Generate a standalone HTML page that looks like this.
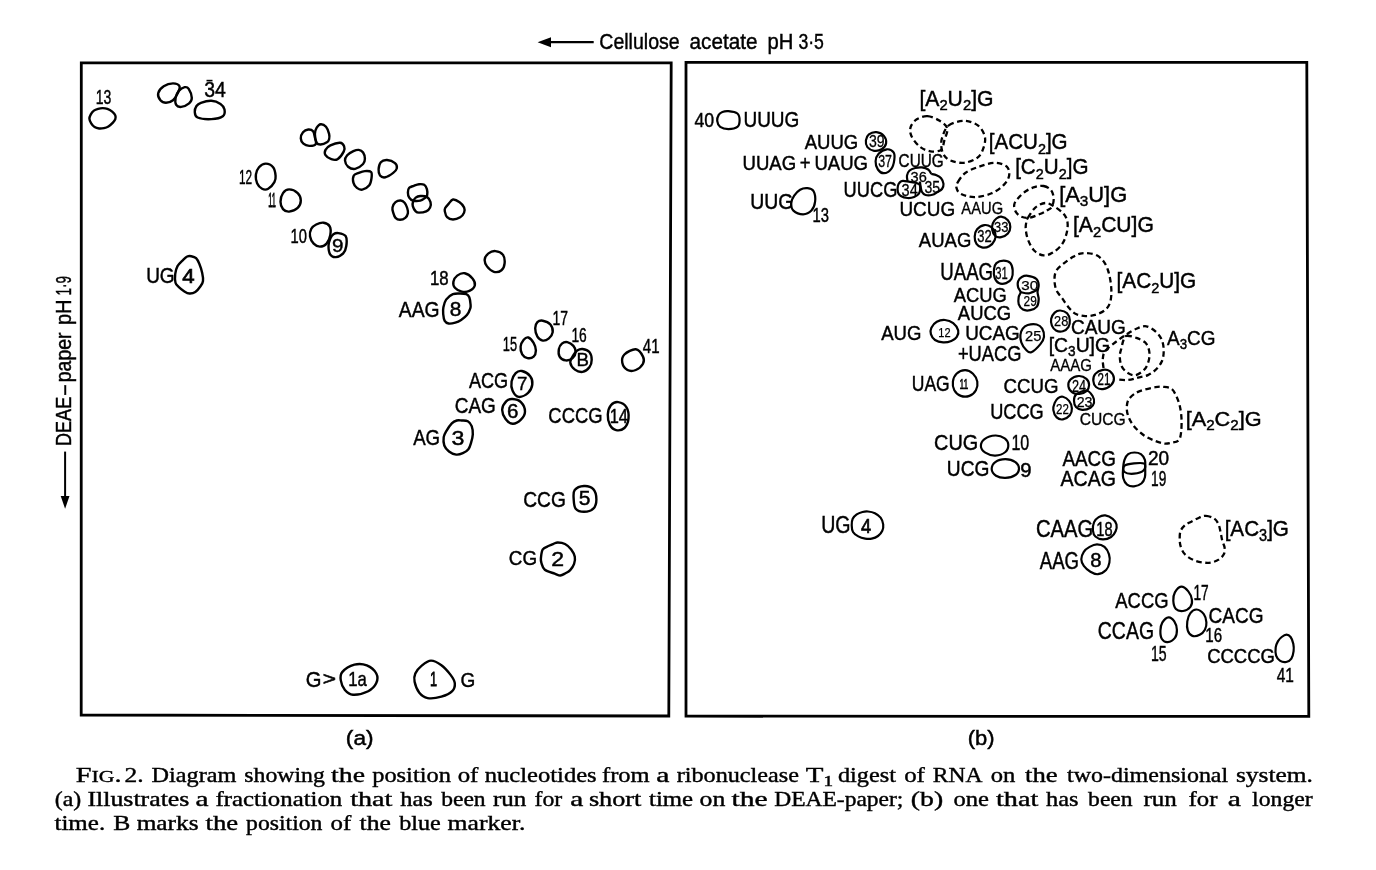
<!DOCTYPE html>
<html><head><meta charset="utf-8"><title>Fig. 2</title>
<style>
html,body{margin:0;padding:0;background:#fff;}
body{width:1376px;height:870px;overflow:hidden;}
svg{display:block;filter:grayscale(1);}
.fig text{font-family:"Liberation Sans",sans-serif;fill:#000;}
.cap text{font-family:"Liberation Serif",serif;fill:#000;font-size:21.2px;stroke:#000;stroke-width:0.4px;}
</style></head><body>
<svg width="1376" height="870" viewBox="0 0 1376 870">
<rect width="1376" height="870" fill="#fff"/>
<g class="fig">
<path d="M81.3,62.8 L671.2,62.8 L668.8,716 L81.2,715 Z" fill="none" stroke="#000" stroke-width="2.8"/>
<path d="M686,62.4 L1306.8,62.4 L1308.8,716.4 L686,716.2 Z" fill="none" stroke="#000" stroke-width="2.8"/>
<line x1="545" y1="42.2" x2="593.7" y2="42.2" stroke="#000" stroke-width="2.2"/>
<path d="M537.6,42.2 L551,37.2 L551,47.2 Z" fill="#000"/>
<text x="599.31" y="49.40" font-size="22.70" textLength="80.36" lengthAdjust="spacingAndGlyphs" stroke="#000" stroke-width="0.45">Cellulose</text>
<text x="689.52" y="49.40" font-size="22.70" textLength="67.90" lengthAdjust="spacingAndGlyphs" stroke="#000" stroke-width="0.45">acetate</text>
<text x="767.50" y="49.40" font-size="22.70" textLength="25.85" lengthAdjust="spacingAndGlyphs" stroke="#000" stroke-width="0.45">pH</text>
<text x="798.43" y="49.40" font-size="22.70" textLength="25.51" lengthAdjust="spacingAndGlyphs" stroke="#000" stroke-width="0.45">3·5</text>
<g transform="rotate(-90 63.5 443.6)">
<text x="61.12" y="450.80" font-size="21.30" textLength="49.16" lengthAdjust="spacingAndGlyphs" stroke="#000" stroke-width="0.45">DEAE</text>
<text x="112.30" y="450.80" font-size="21.30" textLength="9.61" lengthAdjust="spacingAndGlyphs" stroke="#000" stroke-width="0.45">–</text>
<text x="124.85" y="450.80" font-size="21.30" textLength="49.78" lengthAdjust="spacingAndGlyphs" stroke="#000" stroke-width="0.45">paper</text>
<text x="182.00" y="450.80" font-size="21.30" textLength="25.74" lengthAdjust="spacingAndGlyphs" stroke="#000" stroke-width="0.45">pH</text>
<text x="211.57" y="450.80" font-size="21.30" textLength="19.46" lengthAdjust="spacingAndGlyphs" stroke="#000" stroke-width="0.45">1·9</text>
</g>
<line x1="65.1" y1="451.6" x2="65.1" y2="500" stroke="#000" stroke-width="2"/>
<path d="M65.1,508.7 L60.7,495.9 L69.5,495.9 Z" fill="#000"/>
<text x="345.89" y="744.60" font-size="20.00" textLength="27.71" lengthAdjust="spacingAndGlyphs" stroke="#000" stroke-width="0.45">(a)</text>
<text x="967.74" y="744.60" font-size="20.00" textLength="26.82" lengthAdjust="spacingAndGlyphs" stroke="#000" stroke-width="0.45">(b)</text>
<text x="95.83" y="103.50" font-size="19.86" textLength="15.58" lengthAdjust="spacingAndGlyphs" stroke="#000" stroke-width="0.45">13</text>
<text x="204.26" y="97.10" font-size="21.57" textLength="21.61" lengthAdjust="spacingAndGlyphs" stroke="#000" stroke-width="0.45">34</text>
<text x="239.00" y="183.70" font-size="21.14" textLength="13.20" lengthAdjust="spacingAndGlyphs" stroke="#000" stroke-width="0.45">12</text>
<text x="268.28" y="206.50" font-size="20.29" textLength="7.66" lengthAdjust="spacingAndGlyphs" stroke="#000" stroke-width="0.80">11</text>
<text x="290.48" y="242.70" font-size="20.14" textLength="16.40" lengthAdjust="spacingAndGlyphs" stroke="#000" stroke-width="0.45">10</text>
<text x="146.14" y="283.00" font-size="21.71" textLength="28.48" lengthAdjust="spacingAndGlyphs" stroke="#000" stroke-width="0.45">UG</text>
<text x="429.92" y="284.90" font-size="19.57" textLength="18.71" lengthAdjust="spacingAndGlyphs" stroke="#000" stroke-width="0.45">18</text>
<text x="398.76" y="317.30" font-size="22.43" textLength="40.78" lengthAdjust="spacingAndGlyphs" stroke="#000" stroke-width="0.45">AAG</text>
<text x="552.43" y="325.10" font-size="20.86" textLength="15.57" lengthAdjust="spacingAndGlyphs" stroke="#000" stroke-width="0.45">17</text>
<text x="502.82" y="350.70" font-size="19.71" textLength="14.32" lengthAdjust="spacingAndGlyphs" stroke="#000" stroke-width="0.45">15</text>
<text x="571.45" y="341.80" font-size="21.00" textLength="15.36" lengthAdjust="spacingAndGlyphs" stroke="#000" stroke-width="0.45">16</text>
<text x="642.75" y="352.60" font-size="19.57" textLength="16.78" lengthAdjust="spacingAndGlyphs" stroke="#000" stroke-width="0.45">41</text>
<text x="468.96" y="388.10" font-size="21.57" textLength="39.19" lengthAdjust="spacingAndGlyphs" stroke="#000" stroke-width="0.45">ACG</text>
<text x="454.73" y="412.70" font-size="21.57" textLength="41.18" lengthAdjust="spacingAndGlyphs" stroke="#000" stroke-width="0.45">CAG</text>
<text x="413.16" y="444.80" font-size="22.86" textLength="26.93" lengthAdjust="spacingAndGlyphs" stroke="#000" stroke-width="0.45">AG</text>
<text x="548.37" y="423.10" font-size="21.57" textLength="54.21" lengthAdjust="spacingAndGlyphs" stroke="#000" stroke-width="0.45">CCCG</text>
<text x="523.23" y="507.10" font-size="21.29" textLength="42.61" lengthAdjust="spacingAndGlyphs" stroke="#000" stroke-width="0.45">CCG</text>
<text x="508.84" y="564.60" font-size="20.57" textLength="28.26" lengthAdjust="spacingAndGlyphs" stroke="#000" stroke-width="0.45">CG</text>
<text x="305.68" y="687.10" font-size="22.71" textLength="15.73" lengthAdjust="spacingAndGlyphs" stroke="#000" stroke-width="0.45">G</text>
<text x="348.23" y="686.40" font-size="20.86" textLength="18.57" lengthAdjust="spacingAndGlyphs" stroke="#000" stroke-width="0.45">1a</text>
<text x="430.03" y="686.40" font-size="20.86" textLength="7.09" lengthAdjust="spacingAndGlyphs" stroke="#000" stroke-width="0.80">1</text>
<text x="460.44" y="687.10" font-size="20.71" textLength="14.77" lengthAdjust="spacingAndGlyphs" stroke="#000" stroke-width="0.45">G</text>
<text x="332.04" y="252.30" font-size="18.57" textLength="11.44" lengthAdjust="spacingAndGlyphs" stroke="#000" stroke-width="0.43">9</text>
<text x="182.29" y="283.00" font-size="20.57" textLength="12.36" lengthAdjust="spacingAndGlyphs" stroke="#000" stroke-width="0.70">4</text>
<text x="449.89" y="316.30" font-size="19.57" textLength="11.62" lengthAdjust="spacingAndGlyphs" stroke="#000" stroke-width="0.45">8</text>
<text x="576.47" y="366.40" font-size="18.57" textLength="12.41" lengthAdjust="spacingAndGlyphs" stroke="#000" stroke-width="0.43">B</text>
<text x="517.14" y="390.00" font-size="17.43" textLength="10.40" lengthAdjust="spacingAndGlyphs" stroke="#000" stroke-width="0.37">7</text>
<text x="506.95" y="417.80" font-size="19.29" textLength="11.45" lengthAdjust="spacingAndGlyphs" stroke="#000" stroke-width="0.45">6</text>
<text x="451.62" y="444.80" font-size="20.71" textLength="12.90" lengthAdjust="spacingAndGlyphs" stroke="#000" stroke-width="0.45">3</text>
<text x="609.75" y="422.80" font-size="20.71" textLength="18.23" lengthAdjust="spacingAndGlyphs" stroke="#000" stroke-width="0.45">14</text>
<text x="578.66" y="504.80" font-size="19.29" textLength="11.73" lengthAdjust="spacingAndGlyphs" stroke="#000" stroke-width="0.45">5</text>
<text x="551.34" y="565.80" font-size="19.29" textLength="12.82" lengthAdjust="spacingAndGlyphs" stroke="#000" stroke-width="0.45">2</text>
<text x="322.88" y="685.10" font-size="17.50" textLength="13.22" lengthAdjust="spacingAndGlyphs" stroke="#000" stroke-width="0.60">&gt;</text>
<line x1="206.5" y1="80.6" x2="212.5" y2="80.6" stroke="#000" stroke-width="1.6"/>
<path d="M102.60,108.10 C104.15,108.10 105.80,108.22 107.40,108.80 C109.00,109.38 110.88,110.50 112.20,111.60 C113.52,112.70 114.78,114.13 115.30,115.40 C115.82,116.67 115.70,118.00 115.30,119.20 C114.90,120.40 114.05,121.40 112.90,122.60 C111.75,123.80 109.90,125.48 108.40,126.40 C106.90,127.32 105.45,127.75 103.90,128.10 C102.35,128.45 100.65,128.67 99.10,128.50 C97.55,128.33 95.92,127.97 94.60,127.10 C93.28,126.23 92.07,124.68 91.20,123.30 C90.33,121.92 89.47,120.30 89.40,118.80 C89.33,117.30 90.05,115.67 90.80,114.30 C91.55,112.93 92.68,111.52 93.90,110.60 C95.12,109.68 96.65,109.22 98.10,108.80 C99.55,108.38 101.05,108.10 102.60,108.10Z" fill="none" stroke="#000" stroke-width="2.40" stroke-linejoin="round"/>
<path d="M635.80,349.30 C638.90,349.65 641.80,354.18 643.00,356.60 C644.20,359.02 644.20,361.57 643.00,363.80 C641.80,366.03 638.38,368.97 635.80,370.00 C633.22,371.03 629.75,371.20 627.50,370.00 C625.25,368.80 622.82,365.38 622.30,362.80 C621.78,360.22 622.15,356.75 624.40,354.50 C626.65,352.25 632.70,348.95 635.80,349.30Z" fill="none" stroke="#000" stroke-width="2.40" stroke-linejoin="round"/>
<path d="M521.90,371.00 C524.32,371.52 528.47,373.95 530.20,376.20 C531.93,378.45 532.65,381.73 532.30,384.50 C531.95,387.27 530.35,390.73 528.10,392.80 C525.85,394.87 521.38,397.25 518.80,396.90 C516.22,396.55 513.80,393.28 512.60,390.70 C511.40,388.12 511.08,384.33 511.60,381.40 C512.12,378.47 513.98,374.83 515.70,373.10 C517.42,371.37 519.48,370.48 521.90,371.00Z" fill="none" stroke="#000" stroke-width="2.40" stroke-linejoin="round"/>
<path d="M512.60,399.00 C515.02,399.17 518.83,400.03 520.90,402.10 C522.97,404.17 525.00,408.47 525.00,411.40 C525.00,414.33 522.97,417.63 520.90,419.70 C518.83,421.77 515.18,423.97 512.60,423.80 C510.02,423.63 507.13,421.10 505.40,418.70 C503.67,416.30 502.03,412.33 502.20,409.40 C502.37,406.47 504.67,402.83 506.40,401.10 C508.13,399.37 510.18,398.83 512.60,399.00Z" fill="none" stroke="#000" stroke-width="2.40" stroke-linejoin="round"/>
<path d="M618.20,402.10 C620.80,402.45 624.78,404.53 626.50,407.30 C628.22,410.07 628.85,415.25 628.50,418.70 C628.15,422.15 626.47,426.10 624.40,428.00 C622.33,429.90 618.52,430.62 616.10,430.10 C613.68,429.58 611.28,427.50 609.90,424.90 C608.52,422.30 607.63,417.78 607.80,414.50 C607.97,411.22 609.17,407.27 610.90,405.20 C612.63,403.13 615.60,401.75 618.20,402.10Z" fill="none" stroke="#000" stroke-width="2.40" stroke-linejoin="round"/>
<path d="M584.00,486.00 C587.10,485.83 591.23,486.87 593.30,489.10 C595.37,491.33 596.40,496.13 596.40,499.40 C596.40,502.67 595.37,506.63 593.30,508.70 C591.23,510.77 586.93,511.80 584.00,511.80 C581.07,511.80 577.42,510.77 575.70,508.70 C573.98,506.63 573.87,502.50 573.70,499.40 C573.53,496.30 572.98,492.33 574.70,490.10 C576.42,487.87 580.90,486.17 584.00,486.00Z" fill="none" stroke="#000" stroke-width="2.40" stroke-linejoin="round"/>
<path d="M495.40,251.10 C497.82,251.35 501.47,252.87 503.00,254.90 C504.53,256.93 504.85,260.75 504.60,263.30 C504.35,265.85 503.28,268.78 501.50,270.20 C499.72,271.62 496.32,272.43 493.90,271.80 C491.48,271.17 488.53,268.45 487.00,266.40 C485.47,264.35 484.45,261.67 484.70,259.50 C484.95,257.33 486.72,254.80 488.50,253.40 C490.28,252.00 492.98,250.85 495.40,251.10Z" fill="none" stroke="#000" stroke-width="2.40" stroke-linejoin="round"/>
<path d="M464.80,273.30 C467.35,273.80 470.83,276.57 472.50,278.60 C474.17,280.63 475.32,283.45 474.80,285.50 C474.28,287.55 471.57,289.88 469.40,290.90 C467.23,291.92 464.22,292.12 461.80,291.60 C459.38,291.08 456.30,289.45 454.90,287.80 C453.50,286.15 453.02,283.73 453.40,281.70 C453.78,279.67 455.30,277.00 457.20,275.60 C459.10,274.20 462.25,272.80 464.80,273.30Z" fill="none" stroke="#000" stroke-width="2.40" stroke-linejoin="round"/>
<path d="M542.80,320.70 C544.97,321.08 548.75,322.58 550.40,324.50 C552.05,326.42 552.95,329.90 552.70,332.20 C552.45,334.50 550.55,336.90 548.90,338.30 C547.25,339.70 544.72,340.87 542.80,340.60 C540.88,340.33 538.67,338.75 537.40,336.70 C536.13,334.65 535.20,330.72 535.20,328.30 C535.20,325.88 536.13,323.47 537.40,322.20 C538.67,320.93 540.63,320.32 542.80,320.70Z" fill="none" stroke="#000" stroke-width="2.40" stroke-linejoin="round"/>
<path d="M528.30,337.50 C529.95,338.02 532.33,340.73 533.60,342.90 C534.87,345.07 535.90,348.22 535.90,350.50 C535.90,352.78 535.00,355.33 533.60,356.60 C532.20,357.87 529.40,358.48 527.50,358.10 C525.60,357.72 523.35,356.20 522.20,354.30 C521.05,352.40 520.35,349.12 520.60,346.70 C520.85,344.28 522.42,341.33 523.70,339.80 C524.98,338.27 526.65,336.98 528.30,337.50Z" fill="none" stroke="#000" stroke-width="2.40" stroke-linejoin="round"/>
<path d="M567.30,342.10 C569.22,342.48 572.00,344.25 573.40,345.90 C574.80,347.55 575.83,349.97 575.70,352.00 C575.57,354.03 574.27,356.70 572.60,358.10 C570.93,359.50 567.87,360.65 565.70,360.40 C563.53,360.15 560.73,358.50 559.60,356.60 C558.47,354.70 558.52,351.17 558.90,349.00 C559.28,346.83 560.50,344.75 561.90,343.60 C563.30,342.45 565.38,341.72 567.30,342.10Z" fill="none" stroke="#000" stroke-width="2.40" stroke-linejoin="round"/>
<path d="M582.60,349.00 C584.63,349.25 587.88,350.22 589.40,352.00 C590.92,353.78 591.70,357.15 591.70,359.70 C591.70,362.25 590.92,365.27 589.40,367.30 C587.88,369.33 585.02,371.52 582.60,371.90 C580.18,372.28 576.95,371.13 574.90,369.60 C572.85,368.07 570.55,365.12 570.30,362.70 C570.05,360.28 572.25,357.13 573.40,355.10 C574.55,353.07 575.67,351.52 577.20,350.50 C578.73,349.48 580.57,348.75 582.60,349.00Z" fill="none" stroke="#000" stroke-width="2.40" stroke-linejoin="round"/>
<path d="M265.80,163.60 C268.15,163.60 271.47,165.25 273.10,167.30 C274.73,169.35 275.38,173.43 275.60,175.90 C275.82,178.37 275.63,179.95 274.40,182.10 C273.17,184.25 270.25,187.68 268.20,188.80 C266.15,189.92 263.95,189.72 262.10,188.80 C260.25,187.88 258.13,185.65 257.10,183.30 C256.07,180.95 255.58,177.37 255.90,174.70 C256.22,172.03 257.35,169.15 259.00,167.30 C260.65,165.45 263.45,163.60 265.80,163.60Z" fill="none" stroke="#000" stroke-width="2.40" stroke-linejoin="round"/>
<path d="M289.10,189.40 C291.55,189.40 295.75,191.25 297.70,193.10 C299.65,194.95 300.80,198.03 300.80,200.50 C300.80,202.97 299.65,206.05 297.70,207.90 C295.75,209.75 291.55,211.40 289.10,211.60 C286.65,211.80 284.43,210.75 283.00,209.10 C281.57,207.45 280.50,204.37 280.50,201.70 C280.50,199.03 281.57,195.15 283.00,193.10 C284.43,191.05 286.65,189.40 289.10,189.40Z" fill="none" stroke="#000" stroke-width="2.40" stroke-linejoin="round"/>
<path d="M323.60,222.70 C325.85,223.00 328.58,224.27 329.70,226.30 C330.82,228.33 330.82,232.02 330.30,234.90 C329.78,237.78 328.33,241.65 326.60,243.60 C324.87,245.55 322.05,246.60 319.90,246.60 C317.75,246.60 315.35,245.33 313.70,243.60 C312.05,241.87 310.40,238.67 310.00,236.20 C309.60,233.73 310.27,230.75 311.30,228.80 C312.33,226.85 314.15,225.52 316.20,224.50 C318.25,223.48 321.35,222.40 323.60,222.70Z" fill="none" stroke="#000" stroke-width="2.40" stroke-linejoin="round"/>
<path d="M338.30,233.10 C340.35,233.42 344.37,234.05 345.70,236.20 C347.03,238.35 346.72,243.13 346.30,246.00 C345.88,248.87 344.93,251.55 343.20,253.40 C341.47,255.25 338.05,256.90 335.90,257.10 C333.75,257.30 331.53,256.45 330.30,254.60 C329.07,252.75 328.50,248.67 328.50,246.00 C328.50,243.33 329.48,240.55 330.30,238.60 C331.12,236.65 332.07,235.22 333.40,234.30 C334.73,233.38 336.25,232.78 338.30,233.10Z" fill="none" stroke="#000" stroke-width="2.40" stroke-linejoin="round"/>
<path d="M400.70,200.50 C402.22,200.60 403.52,201.55 404.60,202.80 C405.68,204.05 406.65,206.25 407.20,208.00 C407.75,209.75 408.22,211.65 407.90,213.30 C407.58,214.95 406.62,216.82 405.30,217.90 C403.98,218.98 401.63,219.80 400.00,219.80 C398.37,219.80 396.63,219.10 395.50,217.90 C394.37,216.70 393.70,214.35 393.20,212.60 C392.70,210.85 392.12,209.13 392.50,207.40 C392.88,205.67 394.13,203.35 395.50,202.20 C396.87,201.05 399.18,200.40 400.70,200.50Z" fill="none" stroke="#000" stroke-width="2.40" stroke-linejoin="round"/>
<path d="M419.00,184.20 C420.73,184.03 422.88,183.98 424.20,184.80 C425.52,185.62 426.40,187.40 426.90,189.10 C427.40,190.80 427.43,193.58 427.20,195.00 C426.97,196.42 426.65,196.67 425.50,197.60 C424.35,198.53 422.37,200.10 420.30,200.60 C418.23,201.10 414.95,201.10 413.10,200.60 C411.25,200.10 410.07,198.97 409.20,197.60 C408.33,196.23 407.90,194.03 407.90,192.40 C407.90,190.77 408.22,188.90 409.20,187.80 C410.18,186.70 412.17,186.40 413.80,185.80 C415.43,185.20 417.27,184.37 419.00,184.20Z" fill="none" stroke="#000" stroke-width="2.40" stroke-linejoin="round"/>
<path d="M420.30,196.00 C422.17,195.88 425.20,195.87 426.90,196.90 C428.60,197.93 429.97,200.45 430.50,202.20 C431.03,203.95 430.82,205.88 430.10,207.40 C429.38,208.92 428.05,210.43 426.20,211.30 C424.35,212.17 420.75,212.60 419.00,212.60 C417.25,212.60 416.73,212.38 415.70,211.30 C414.67,210.22 413.23,207.73 412.80,206.10 C412.37,204.47 412.62,202.92 413.10,201.50 C413.58,200.08 414.50,198.52 415.70,197.60 C416.90,196.68 418.43,196.12 420.30,196.00Z" fill="none" stroke="#000" stroke-width="2.40" stroke-linejoin="round"/>
<path d="M453.00,199.50 C454.87,199.18 457.75,200.88 459.60,202.20 C461.45,203.52 463.35,205.67 464.10,207.40 C464.85,209.13 464.75,210.97 464.10,212.60 C463.45,214.23 462.05,216.05 460.20,217.20 C458.35,218.35 455.18,219.50 453.00,219.50 C450.82,219.50 448.47,218.57 447.10,217.20 C445.73,215.83 445.12,212.83 444.80,211.30 C444.48,209.77 444.60,209.20 445.20,208.00 C445.80,206.80 447.10,205.52 448.40,204.10 C449.70,202.68 451.13,199.82 453.00,199.50Z" fill="none" stroke="#000" stroke-width="2.40" stroke-linejoin="round"/>
<path d="M308.30,129.50 C309.98,129.35 312.00,129.97 313.10,131.30 C314.20,132.63 314.45,135.37 314.90,137.50 C315.35,139.63 316.75,142.70 315.80,144.10 C314.85,145.50 311.27,145.97 309.20,145.90 C307.13,145.83 304.80,144.95 303.40,143.70 C302.00,142.45 300.87,140.32 300.80,138.40 C300.73,136.48 301.75,133.68 303.00,132.20 C304.25,130.72 306.62,129.65 308.30,129.50Z" fill="none" stroke="#000" stroke-width="2.40" stroke-linejoin="round"/>
<path d="M320.70,124.20 C322.25,124.05 324.60,125.18 326.00,126.80 C327.40,128.42 328.58,131.83 329.10,133.90 C329.62,135.97 329.47,137.80 329.10,139.20 C328.73,140.60 328.30,141.42 326.90,142.30 C325.50,143.18 322.40,144.42 320.70,144.50 C319.00,144.58 317.67,144.57 316.70,142.80 C315.73,141.03 314.90,136.42 314.90,133.90 C314.90,131.38 315.73,129.32 316.70,127.70 C317.67,126.08 319.15,124.35 320.70,124.20Z" fill="none" stroke="#000" stroke-width="2.40" stroke-linejoin="round"/>
<path d="M340.10,142.80 C342.38,142.95 343.50,144.83 344.10,146.30 C344.70,147.77 344.80,149.45 343.70,151.60 C342.60,153.75 339.57,157.93 337.50,159.20 C335.43,160.47 333.30,159.87 331.30,159.20 C329.30,158.53 326.47,156.75 325.50,155.20 C324.53,153.65 324.68,151.53 325.50,149.90 C326.32,148.27 327.97,146.58 330.40,145.40 C332.83,144.22 337.82,142.65 340.10,142.80Z" fill="none" stroke="#000" stroke-width="2.40" stroke-linejoin="round"/>
<path d="M358.70,149.90 C360.32,150.12 362.07,151.03 363.10,152.50 C364.13,153.97 364.90,156.78 364.90,158.70 C364.90,160.62 364.72,162.30 363.10,164.00 C361.48,165.70 357.70,168.45 355.20,168.90 C352.70,169.35 349.80,168.10 348.10,166.70 C346.40,165.30 345.15,162.42 345.00,160.50 C344.85,158.58 345.80,156.75 347.20,155.20 C348.60,153.65 351.48,152.08 353.40,151.20 C355.32,150.32 357.08,149.68 358.70,149.90Z" fill="none" stroke="#000" stroke-width="2.40" stroke-linejoin="round"/>
<path d="M364.90,171.10 C366.97,170.95 370.00,170.82 371.10,172.00 C372.20,173.18 371.80,175.98 371.50,178.20 C371.20,180.42 370.83,183.38 369.30,185.30 C367.77,187.22 364.37,189.27 362.30,189.70 C360.23,190.13 358.38,189.08 356.90,187.90 C355.42,186.72 353.92,184.67 353.40,182.60 C352.88,180.53 352.92,177.12 353.80,175.50 C354.68,173.88 356.85,173.63 358.70,172.90 C360.55,172.17 362.83,171.25 364.90,171.10Z" fill="none" stroke="#000" stroke-width="2.40" stroke-linejoin="round"/>
<path d="M387.00,160.00 C389.37,160.15 393.37,161.70 395.00,163.10 C396.63,164.50 397.10,166.77 396.80,168.40 C396.50,170.03 395.12,171.42 393.20,172.90 C391.28,174.38 387.50,176.87 385.30,177.30 C383.10,177.73 381.12,176.83 380.00,175.50 C378.88,174.17 378.47,171.52 378.60,169.30 C378.73,167.08 379.40,163.75 380.80,162.20 C382.20,160.65 384.63,159.85 387.00,160.00Z" fill="none" stroke="#000" stroke-width="2.40" stroke-linejoin="round"/>
<path d="M163.70,86.30 C166.17,84.65 170.37,83.40 173.00,83.40 C175.63,83.40 178.72,84.65 179.50,86.30 C180.28,87.95 178.78,90.98 177.70,93.30 C176.62,95.62 174.95,98.62 173.00,100.20 C171.05,101.78 168.10,102.80 166.00,102.80 C163.90,102.80 161.70,101.78 160.40,100.20 C159.10,98.62 157.65,95.62 158.20,93.30 C158.75,90.98 161.23,87.95 163.70,86.30Z" fill="none" stroke="#000" stroke-width="2.40" stroke-linejoin="round"/>
<path d="M184.70,87.20 C186.35,86.85 187.52,87.02 188.70,88.80 C189.88,90.58 191.73,95.47 191.80,97.90 C191.87,100.33 190.87,101.90 189.10,103.40 C187.33,104.90 183.35,106.65 181.20,106.90 C179.05,107.15 177.13,106.40 176.20,104.90 C175.27,103.40 175.17,100.23 175.60,97.90 C176.03,95.57 177.28,92.68 178.80,90.90 C180.32,89.12 183.05,87.55 184.70,87.20Z" fill="none" stroke="#000" stroke-width="2.40" stroke-linejoin="round"/>
<path d="M200.90,102.80 C203.38,101.93 208.13,100.62 211.40,100.80 C214.67,100.98 218.32,102.45 220.50,103.90 C222.68,105.35 224.12,107.45 224.50,109.50 C224.88,111.55 224.98,114.60 222.80,116.20 C220.62,117.80 215.60,118.88 211.40,119.10 C207.20,119.32 200.37,118.70 197.60,117.50 C194.83,116.30 194.98,113.82 194.80,111.90 C194.62,109.98 195.48,107.52 196.50,106.00 C197.52,104.48 198.42,103.67 200.90,102.80Z" fill="none" stroke="#000" stroke-width="2.40" stroke-linejoin="round"/>
<path d="M191.30,256.20 C192.78,256.48 194.77,256.93 196.10,258.20 C197.43,259.47 198.28,261.33 199.30,263.80 C200.32,266.27 201.58,270.13 202.20,273.00 C202.82,275.87 203.28,278.80 203.00,281.00 C202.72,283.20 201.78,284.37 200.50,286.20 C199.22,288.03 197.13,290.78 195.30,292.00 C193.47,293.22 191.32,293.60 189.50,293.50 C187.68,293.40 186.22,292.52 184.40,291.40 C182.58,290.28 180.08,288.23 178.60,286.80 C177.12,285.37 176.07,284.92 175.50,282.80 C174.93,280.68 174.87,276.88 175.20,274.10 C175.53,271.32 176.17,268.48 177.50,266.10 C178.83,263.72 181.58,261.40 183.20,259.80 C184.82,258.20 185.85,257.10 187.20,256.50 C188.55,255.90 189.82,255.92 191.30,256.20Z" fill="none" stroke="#000" stroke-width="2.40" stroke-linejoin="round"/>
<path d="M452.90,294.20 C455.25,293.18 457.95,293.50 460.20,293.50 C462.45,293.50 464.88,293.58 466.40,294.20 C467.92,294.82 468.62,295.57 469.30,297.20 C469.98,298.83 470.33,302.15 470.50,304.00 C470.67,305.85 470.90,306.47 470.30,308.30 C469.70,310.13 468.43,313.07 466.90,315.00 C465.37,316.93 463.03,318.63 461.10,319.90 C459.17,321.17 457.38,322.00 455.30,322.60 C453.22,323.20 450.37,323.78 448.60,323.50 C446.83,323.22 445.60,322.47 444.70,320.90 C443.80,319.33 443.42,316.37 443.20,314.10 C442.98,311.83 442.92,309.72 443.40,307.30 C443.88,304.88 444.52,301.78 446.10,299.60 C447.68,297.42 450.55,295.22 452.90,294.20Z" fill="none" stroke="#000" stroke-width="2.40" stroke-linejoin="round"/>
<path d="M461.70,420.50 C463.53,420.63 466.13,420.37 467.80,421.30 C469.47,422.23 470.87,423.92 471.70,426.10 C472.53,428.28 472.90,431.63 472.80,434.40 C472.70,437.17 471.83,440.22 471.10,442.70 C470.37,445.18 469.78,447.55 468.40,449.30 C467.02,451.05 464.83,452.32 462.80,453.20 C460.77,454.08 458.50,454.88 456.20,454.60 C453.90,454.32 450.98,453.02 449.00,451.50 C447.02,449.98 445.18,447.88 444.30,445.50 C443.42,443.12 443.37,439.60 443.70,437.20 C444.03,434.80 444.95,433.40 446.30,431.10 C447.65,428.80 450.05,425.17 451.80,423.40 C453.55,421.63 455.15,420.98 456.80,420.50 C458.45,420.02 459.87,420.37 461.70,420.50Z" fill="none" stroke="#000" stroke-width="2.40" stroke-linejoin="round"/>
<path d="M557.80,542.50 C559.70,542.53 562.77,542.85 565.00,544.00 C567.23,545.15 569.57,547.28 571.20,549.40 C572.83,551.52 574.32,554.28 574.80,556.70 C575.28,559.12 574.87,561.67 574.10,563.90 C573.33,566.13 571.63,568.55 570.20,570.10 C568.77,571.65 567.15,572.30 565.50,573.20 C563.85,574.10 562.10,575.43 560.30,575.50 C558.50,575.57 557.28,574.55 554.70,573.60 C552.12,572.65 547.02,571.58 544.80,569.80 C542.58,568.02 542.05,564.83 541.40,562.90 C540.75,560.97 540.67,560.45 540.90,558.20 C541.13,555.95 541.45,551.47 542.80,549.40 C544.15,547.33 547.20,546.73 549.00,545.80 C550.80,544.87 552.13,544.35 553.60,543.80 C555.07,543.25 555.90,542.47 557.80,542.50Z" fill="none" stroke="#000" stroke-width="2.40" stroke-linejoin="round"/>
<path d="M431.00,660.60 C434.23,660.57 438.13,662.82 441.40,665.20 C444.67,667.58 448.37,671.92 450.60,674.90 C452.83,677.88 454.53,680.38 454.80,683.10 C455.07,685.82 454.43,688.93 452.20,691.20 C449.97,693.47 445.50,695.55 441.40,696.70 C437.30,697.85 431.28,698.75 427.60,698.10 C423.92,697.45 421.47,695.52 419.30,692.80 C417.13,690.08 415.27,685.02 414.60,681.80 C413.93,678.58 414.07,676.23 415.30,673.50 C416.53,670.77 419.38,667.55 422.00,665.40 C424.62,663.25 427.77,660.63 431.00,660.60Z" fill="none" stroke="#000" stroke-width="2.40" stroke-linejoin="round"/>
<path d="M354.40,664.70 C358.50,663.58 363.15,663.93 366.80,665.40 C370.45,666.87 374.72,670.55 376.30,673.50 C377.88,676.45 377.65,680.15 376.30,683.10 C374.95,686.05 372.08,689.27 368.20,691.20 C364.32,693.13 356.88,694.90 353.00,694.70 C349.12,694.50 346.93,692.38 344.90,690.00 C342.87,687.62 341.25,683.38 340.80,680.40 C340.35,677.42 339.93,674.72 342.20,672.10 C344.47,669.48 350.30,665.82 354.40,664.70Z" fill="none" stroke="#000" stroke-width="2.40" stroke-linejoin="round"/>
<text x="694.49" y="126.90" font-size="21.00" textLength="19.70" lengthAdjust="spacingAndGlyphs" stroke="#000" stroke-width="0.45">40</text>
<text x="743.44" y="126.90" font-size="22.43" textLength="55.88" lengthAdjust="spacingAndGlyphs" stroke="#000" stroke-width="0.45">UUUG</text>
<text x="804.76" y="148.50" font-size="19.71" textLength="53.42" lengthAdjust="spacingAndGlyphs" stroke="#000" stroke-width="0.45">AUUG</text>
<text x="742.57" y="170.10" font-size="19.71" textLength="125.42" lengthAdjust="spacingAndGlyphs" stroke="#000" stroke-width="0.45">UUAG + UAUG</text>
<text x="898.62" y="166.80" font-size="18.14" textLength="45.02" lengthAdjust="spacingAndGlyphs" stroke="#000" stroke-width="0.41">CUUG</text>
<text x="843.59" y="196.60" font-size="22.14" textLength="53.77" lengthAdjust="spacingAndGlyphs" stroke="#000" stroke-width="0.45">UUCG</text>
<text x="750.30" y="209.30" font-size="22.43" textLength="43.15" lengthAdjust="spacingAndGlyphs" stroke="#000" stroke-width="0.45">UUG</text>
<text x="812.47" y="222.10" font-size="19.71" textLength="16.48" lengthAdjust="spacingAndGlyphs" stroke="#000" stroke-width="0.45">13</text>
<text x="899.44" y="216.10" font-size="20.29" textLength="55.78" lengthAdjust="spacingAndGlyphs" stroke="#000" stroke-width="0.45">UCUG</text>
<text x="961.37" y="214.20" font-size="16.29" textLength="41.73" lengthAdjust="spacingAndGlyphs" stroke="#000" stroke-width="0.31">AAUG</text>
<text x="918.86" y="246.80" font-size="21.00" textLength="52.42" lengthAdjust="spacingAndGlyphs" stroke="#000" stroke-width="0.45">AUAG</text>
<text x="940.26" y="280.10" font-size="23.29" textLength="52.83" lengthAdjust="spacingAndGlyphs" stroke="#000" stroke-width="0.45">UAAG</text>
<text x="953.76" y="301.70" font-size="21.00" textLength="53.11" lengthAdjust="spacingAndGlyphs" stroke="#000" stroke-width="0.45">ACUG</text>
<text x="957.86" y="319.60" font-size="19.71" textLength="53.21" lengthAdjust="spacingAndGlyphs" stroke="#000" stroke-width="0.45">AUCG</text>
<text x="881.16" y="339.50" font-size="21.00" textLength="40.22" lengthAdjust="spacingAndGlyphs" stroke="#000" stroke-width="0.45">AUG</text>
<text x="965.14" y="340.30" font-size="20.86" textLength="54.57" lengthAdjust="spacingAndGlyphs" stroke="#000" stroke-width="0.45">UCAG</text>
<text x="957.91" y="361.00" font-size="22.14" textLength="63.46" lengthAdjust="spacingAndGlyphs" stroke="#000" stroke-width="0.45">+UACG</text>
<text x="1070.93" y="334.30" font-size="21.00" textLength="54.99" lengthAdjust="spacingAndGlyphs" stroke="#000" stroke-width="0.45">CAUG</text>
<text x="1050.27" y="370.50" font-size="16.00" textLength="41.75" lengthAdjust="spacingAndGlyphs" stroke="#000" stroke-width="0.30">AAAG</text>
<text x="911.75" y="391.20" font-size="22.14" textLength="37.96" lengthAdjust="spacingAndGlyphs" stroke="#000" stroke-width="0.45">UAG</text>
<text x="1003.55" y="392.90" font-size="21.00" textLength="54.94" lengthAdjust="spacingAndGlyphs" stroke="#000" stroke-width="0.45">CCUG</text>
<text x="990.20" y="418.80" font-size="22.29" textLength="53.56" lengthAdjust="spacingAndGlyphs" stroke="#000" stroke-width="0.45">UCCG</text>
<text x="1079.71" y="424.80" font-size="17.29" textLength="45.96" lengthAdjust="spacingAndGlyphs" stroke="#000" stroke-width="0.36">CUCG</text>
<text x="934.09" y="450.00" font-size="21.57" textLength="44.09" lengthAdjust="spacingAndGlyphs" stroke="#000" stroke-width="0.45">CUG</text>
<text x="1011.38" y="450.00" font-size="21.57" textLength="17.85" lengthAdjust="spacingAndGlyphs" stroke="#000" stroke-width="0.45">10</text>
<text x="946.82" y="475.50" font-size="21.57" textLength="42.61" lengthAdjust="spacingAndGlyphs" stroke="#000" stroke-width="0.45">UCG</text>
<text x="1020.15" y="476.50" font-size="20.29" textLength="11.32" lengthAdjust="spacingAndGlyphs" stroke="#000" stroke-width="0.45">9</text>
<text x="1062.46" y="465.70" font-size="21.57" textLength="53.45" lengthAdjust="spacingAndGlyphs" stroke="#000" stroke-width="0.45">AACG</text>
<text x="1060.56" y="485.50" font-size="21.57" textLength="55.40" lengthAdjust="spacingAndGlyphs" stroke="#000" stroke-width="0.45">ACAG</text>
<text x="1147.94" y="464.90" font-size="20.86" textLength="21.20" lengthAdjust="spacingAndGlyphs" stroke="#000" stroke-width="0.45">20</text>
<text x="1151.06" y="486.20" font-size="21.43" textLength="15.19" lengthAdjust="spacingAndGlyphs" stroke="#000" stroke-width="0.45">19</text>
<text x="821.19" y="533.20" font-size="24.29" textLength="29.37" lengthAdjust="spacingAndGlyphs" stroke="#000" stroke-width="0.45">UG</text>
<text x="861.08" y="532.80" font-size="21.00" textLength="10.15" lengthAdjust="spacingAndGlyphs" stroke="#000" stroke-width="0.70">4</text>
<text x="1035.97" y="536.60" font-size="23.00" textLength="57.34" lengthAdjust="spacingAndGlyphs" stroke="#000" stroke-width="0.45">CAAG</text>
<text x="1039.76" y="568.70" font-size="23.00" textLength="39.22" lengthAdjust="spacingAndGlyphs" stroke="#000" stroke-width="0.45">AAG</text>
<text x="1115.36" y="608.30" font-size="22.29" textLength="53.11" lengthAdjust="spacingAndGlyphs" stroke="#000" stroke-width="0.45">ACCG</text>
<text x="1193.46" y="600.00" font-size="21.43" textLength="15.23" lengthAdjust="spacingAndGlyphs" stroke="#000" stroke-width="0.45">17</text>
<text x="1208.53" y="622.70" font-size="22.14" textLength="54.99" lengthAdjust="spacingAndGlyphs" stroke="#000" stroke-width="0.45">CACG</text>
<text x="1205.25" y="642.40" font-size="20.71" textLength="16.82" lengthAdjust="spacingAndGlyphs" stroke="#000" stroke-width="0.45">16</text>
<text x="1097.81" y="639.30" font-size="24.43" textLength="56.24" lengthAdjust="spacingAndGlyphs" stroke="#000" stroke-width="0.45">CCAG</text>
<text x="1151.03" y="661.00" font-size="21.43" textLength="15.66" lengthAdjust="spacingAndGlyphs" stroke="#000" stroke-width="0.45">15</text>
<text x="1207.16" y="663.10" font-size="19.71" textLength="67.82" lengthAdjust="spacingAndGlyphs" stroke="#000" stroke-width="0.45">CCCCG</text>
<text x="1276.74" y="681.50" font-size="19.71" textLength="17.21" lengthAdjust="spacingAndGlyphs" stroke="#000" stroke-width="0.45">41</text>
<text x="868.97" y="147.20" font-size="15.57" textLength="15.60" lengthAdjust="spacingAndGlyphs" stroke="#000" stroke-width="0.28">39</text>
<text x="878.23" y="167.30" font-size="16.43" textLength="13.80" lengthAdjust="spacingAndGlyphs" stroke="#000" stroke-width="0.32">37</text>
<text x="910.55" y="181.50" font-size="15.14" textLength="16.19" lengthAdjust="spacingAndGlyphs" stroke="#000" stroke-width="0.26">36</text>
<text x="924.56" y="192.90" font-size="15.57" textLength="15.62" lengthAdjust="spacingAndGlyphs" stroke="#000" stroke-width="0.28">35</text>
<text x="901.55" y="195.50" font-size="16.29" textLength="16.18" lengthAdjust="spacingAndGlyphs" stroke="#000" stroke-width="0.31">34</text>
<text x="977.21" y="242.40" font-size="16.43" textLength="14.45" lengthAdjust="spacingAndGlyphs" stroke="#000" stroke-width="0.32">32</text>
<text x="994.11" y="232.10" font-size="15.43" textLength="14.36" lengthAdjust="spacingAndGlyphs" stroke="#000" stroke-width="0.27">33</text>
<text x="995.37" y="279.20" font-size="16.29" textLength="12.47" lengthAdjust="spacingAndGlyphs" stroke="#000" stroke-width="0.31">31</text>
<text x="1021.22" y="290.10" font-size="12.86" textLength="16.87" lengthAdjust="spacingAndGlyphs" stroke="#000" stroke-width="0.25">30</text>
<text x="1023.60" y="306.40" font-size="14.57" textLength="13.26" lengthAdjust="spacingAndGlyphs" stroke="#000" stroke-width="0.25">29</text>
<text x="938.26" y="336.60" font-size="13.57" textLength="12.30" lengthAdjust="spacingAndGlyphs" stroke="#000" stroke-width="0.25">12</text>
<text x="1025.06" y="341.10" font-size="14.14" textLength="16.36" lengthAdjust="spacingAndGlyphs" stroke="#000" stroke-width="0.25">25</text>
<text x="1054.06" y="326.20" font-size="14.86" textLength="14.20" lengthAdjust="spacingAndGlyphs" stroke="#000" stroke-width="0.25">28</text>
<text x="959.49" y="388.60" font-size="15.43" textLength="8.90" lengthAdjust="spacingAndGlyphs" stroke="#000" stroke-width="0.60">11</text>
<text x="1071.96" y="391.70" font-size="15.86" textLength="14.11" lengthAdjust="spacingAndGlyphs" stroke="#000" stroke-width="0.29">24</text>
<text x="1076.68" y="406.80" font-size="14.71" textLength="15.84" lengthAdjust="spacingAndGlyphs" stroke="#000" stroke-width="0.25">23</text>
<text x="1097.52" y="384.80" font-size="16.86" textLength="12.84" lengthAdjust="spacingAndGlyphs" stroke="#000" stroke-width="0.34">21</text>
<text x="1056.12" y="413.70" font-size="14.71" textLength="12.86" lengthAdjust="spacingAndGlyphs" stroke="#000" stroke-width="0.25">22</text>
<text x="1096.29" y="535.50" font-size="19.43" textLength="16.25" lengthAdjust="spacingAndGlyphs" stroke="#000" stroke-width="0.45">18</text>
<text x="1090.32" y="566.90" font-size="20.00" textLength="11.26" lengthAdjust="spacingAndGlyphs" stroke="#000" stroke-width="0.45">8</text>
<text x="919.39" y="105.60" font-size="21.86" textLength="74.09" lengthAdjust="spacingAndGlyphs" stroke="#000" stroke-width="0.45"><tspan>[A</tspan><tspan font-size="15.30" dy="4.81">2</tspan><tspan dy="-4.81">U</tspan><tspan font-size="15.30" dy="4.81">2</tspan><tspan dy="-4.81">]G</tspan></text>
<text x="988.73" y="149.00" font-size="21.43" textLength="78.90" lengthAdjust="spacingAndGlyphs" stroke="#000" stroke-width="0.45"><tspan>[ACU</tspan><tspan font-size="15.00" dy="4.71">2</tspan><tspan dy="-4.71">]G</tspan></text>
<text x="1015.13" y="174.30" font-size="21.43" textLength="73.31" lengthAdjust="spacingAndGlyphs" stroke="#000" stroke-width="0.45"><tspan>[C</tspan><tspan font-size="15.00" dy="4.71">2</tspan><tspan dy="-4.71">U</tspan><tspan font-size="15.00" dy="4.71">2</tspan><tspan dy="-4.71">]G</tspan></text>
<text x="1059.14" y="201.60" font-size="22.14" textLength="68.09" lengthAdjust="spacingAndGlyphs" stroke="#000" stroke-width="0.45"><tspan>[A</tspan><tspan font-size="15.50" dy="4.87">3</tspan><tspan dy="-4.87">U]G</tspan></text>
<text x="1073.00" y="232.10" font-size="21.57" textLength="80.88" lengthAdjust="spacingAndGlyphs" stroke="#000" stroke-width="0.45"><tspan>[A</tspan><tspan font-size="15.10" dy="4.75">2</tspan><tspan dy="-4.75">CU]G</tspan></text>
<text x="1116.52" y="288.10" font-size="21.71" textLength="79.74" lengthAdjust="spacingAndGlyphs" stroke="#000" stroke-width="0.45"><tspan>[AC</tspan><tspan font-size="15.20" dy="4.78">2</tspan><tspan dy="-4.78">U]G</tspan></text>
<text x="1048.72" y="351.50" font-size="19.71" textLength="61.33" lengthAdjust="spacingAndGlyphs" stroke="#000" stroke-width="0.45"><tspan>[C</tspan><tspan font-size="13.80" dy="4.34">3</tspan><tspan dy="-4.34">U]G</tspan></text>
<text x="1167.06" y="344.60" font-size="20.86" textLength="48.45" lengthAdjust="spacingAndGlyphs" stroke="#000" stroke-width="0.45"><tspan>A</tspan><tspan font-size="14.60" dy="4.59">3</tspan><tspan dy="-4.59">CG</tspan></text>
<text x="1185.65" y="425.60" font-size="21.14" textLength="76.07" lengthAdjust="spacingAndGlyphs" stroke="#000" stroke-width="0.45"><tspan>[A</tspan><tspan font-size="14.80" dy="4.65">2</tspan><tspan dy="-4.65">C</tspan><tspan font-size="14.80" dy="4.65">2</tspan><tspan dy="-4.65">]G</tspan></text>
<text x="1224.63" y="536.30" font-size="22.86" textLength="64.32" lengthAdjust="spacingAndGlyphs" stroke="#000" stroke-width="0.45"><tspan>[AC</tspan><tspan font-size="16.00" dy="5.03">3</tspan><tspan dy="-5.03">]G</tspan></text>
<path d="M1181.10,586.70 C1183.33,586.53 1186.50,589.23 1188.30,591.40 C1190.10,593.57 1191.55,597.12 1191.90,599.70 C1192.25,602.28 1191.87,605.02 1190.40,606.90 C1188.93,608.78 1185.52,610.65 1183.10,611.00 C1180.68,611.35 1177.53,610.72 1175.90,609.00 C1174.27,607.28 1173.47,603.47 1173.30,600.70 C1173.13,597.93 1173.60,594.73 1174.90,592.40 C1176.20,590.07 1178.87,586.87 1181.10,586.70Z" fill="none" stroke="#000" stroke-width="2.20" stroke-linejoin="round"/>
<path d="M1168.60,617.30 C1170.58,617.13 1172.92,619.33 1174.30,621.40 C1175.68,623.47 1176.80,626.95 1176.90,629.70 C1177.00,632.45 1176.45,635.83 1174.90,637.90 C1173.35,639.97 1169.77,641.92 1167.60,642.10 C1165.43,642.28 1163.10,640.90 1161.90,639.00 C1160.70,637.10 1160.32,633.47 1160.40,630.70 C1160.48,627.93 1161.03,624.63 1162.40,622.40 C1163.77,620.17 1166.62,617.47 1168.60,617.30Z" fill="none" stroke="#000" stroke-width="2.20" stroke-linejoin="round"/>
<path d="M1196.60,609.50 C1198.83,609.67 1202.17,611.95 1203.80,614.10 C1205.43,616.25 1206.22,619.80 1206.40,622.40 C1206.58,625.00 1206.02,627.63 1204.90,629.70 C1203.78,631.77 1201.78,633.77 1199.70,634.80 C1197.62,635.83 1194.38,636.58 1192.40,635.90 C1190.42,635.22 1188.65,633.12 1187.80,630.70 C1186.95,628.28 1186.87,624.33 1187.30,621.40 C1187.73,618.47 1188.85,615.08 1190.40,613.10 C1191.95,611.12 1194.37,609.33 1196.60,609.50Z" fill="none" stroke="#000" stroke-width="2.20" stroke-linejoin="round"/>
<path d="M1286.50,634.70 C1287.98,634.70 1289.47,635.50 1290.60,637.00 C1291.73,638.50 1292.80,641.33 1293.30,643.70 C1293.80,646.07 1293.92,648.72 1293.60,651.20 C1293.28,653.68 1292.63,656.80 1291.40,658.60 C1290.17,660.40 1288.07,661.62 1286.20,662.00 C1284.33,662.38 1281.88,661.97 1280.20,660.90 C1278.52,659.83 1276.85,657.85 1276.10,655.60 C1275.35,653.35 1275.40,649.77 1275.70,647.40 C1276.00,645.03 1276.90,643.13 1277.90,641.40 C1278.90,639.67 1280.27,638.12 1281.70,637.00 C1283.13,635.88 1285.02,634.70 1286.50,634.70Z" fill="none" stroke="#000" stroke-width="2.20" stroke-linejoin="round"/>
<path d="M1134.50,452.50 C1136.62,452.50 1139.17,452.97 1140.90,454.20 C1142.63,455.43 1144.18,457.60 1144.90,459.90 C1145.62,462.20 1145.20,465.12 1145.20,468.00 C1145.20,470.88 1145.53,474.62 1144.90,477.20 C1144.27,479.78 1143.22,481.97 1141.40,483.50 C1139.58,485.03 1136.38,486.20 1134.00,486.40 C1131.62,486.60 1128.88,486.05 1127.10,484.70 C1125.32,483.35 1123.98,480.80 1123.30,478.30 C1122.62,475.80 1122.80,472.77 1123.00,469.70 C1123.20,466.63 1123.63,462.48 1124.50,459.90 C1125.37,457.32 1126.53,455.43 1128.20,454.20 C1129.87,452.97 1132.38,452.50 1134.50,452.50Z" fill="none" stroke="#000" stroke-width="2.20" stroke-linejoin="round"/>
<path d="M1124.50,465.70 C1126.08,464.27 1130.70,463.73 1134.00,463.40 C1137.30,463.07 1142.68,462.55 1144.30,463.70 C1145.92,464.85 1145.42,468.63 1143.70,470.30 C1141.98,471.97 1137.20,473.42 1134.00,473.70 C1130.80,473.98 1126.08,473.33 1124.50,472.00 C1122.92,470.67 1122.92,467.13 1124.50,465.70Z" fill="none" stroke="#000" stroke-width="2.20" stroke-linejoin="round"/>
<path d="M965.10,370.10 C967.85,370.10 970.97,371.78 973.00,373.70 C975.03,375.62 976.82,378.85 977.30,381.60 C977.78,384.35 977.22,387.82 975.90,390.20 C974.58,392.58 971.92,394.95 969.40,395.90 C966.88,396.85 963.32,396.85 960.80,395.90 C958.28,394.95 955.62,392.58 954.30,390.20 C952.98,387.82 952.53,384.35 952.90,381.60 C953.27,378.85 954.47,375.62 956.50,373.70 C958.53,371.78 962.35,370.10 965.10,370.10Z" fill="none" stroke="#000" stroke-width="2.20" stroke-linejoin="round"/>
<path d="M995.30,435.50 C998.67,435.38 1002.53,436.85 1004.70,438.40 C1006.87,439.95 1008.18,442.53 1008.30,444.80 C1008.42,447.07 1007.57,450.20 1005.40,452.00 C1003.23,453.80 998.65,455.48 995.30,455.60 C991.95,455.72 987.70,454.25 985.30,452.70 C982.90,451.15 981.03,448.57 980.90,446.30 C980.77,444.03 982.10,440.90 984.50,439.10 C986.90,437.30 991.93,435.62 995.30,435.50Z" fill="none" stroke="#000" stroke-width="2.20" stroke-linejoin="round"/>
<path d="M1005.40,459.20 C1008.75,459.20 1013.13,460.55 1015.40,462.10 C1017.67,463.65 1019.00,466.35 1019.00,468.50 C1019.00,470.65 1017.67,473.43 1015.40,475.00 C1013.13,476.57 1008.63,477.78 1005.40,477.90 C1002.17,478.02 998.28,477.13 996.00,475.70 C993.72,474.27 991.82,471.57 991.70,469.30 C991.58,467.03 993.02,463.78 995.30,462.10 C997.58,460.42 1002.05,459.20 1005.40,459.20Z" fill="none" stroke="#000" stroke-width="2.20" stroke-linejoin="round"/>
<path d="M1060.20,310.50 C1062.27,310.62 1065.50,311.68 1067.10,313.30 C1068.70,314.92 1069.58,317.90 1069.80,320.20 C1070.02,322.50 1069.55,325.27 1068.40,327.10 C1067.25,328.93 1064.97,330.63 1062.90,331.20 C1060.83,331.77 1057.83,331.42 1056.00,330.50 C1054.17,329.58 1052.70,327.65 1051.90,325.70 C1051.10,323.75 1050.73,320.98 1051.20,318.80 C1051.67,316.62 1053.20,313.98 1054.70,312.60 C1056.20,311.22 1058.13,310.38 1060.20,310.50Z" fill="none" stroke="#000" stroke-width="2.20" stroke-linejoin="round"/>
<path d="M1102.90,369.80 C1105.32,369.35 1107.97,369.82 1109.80,371.20 C1111.63,372.58 1113.67,375.80 1113.90,378.10 C1114.13,380.40 1113.03,383.17 1111.20,385.00 C1109.37,386.83 1105.43,388.77 1102.90,389.10 C1100.37,389.43 1097.60,388.38 1096.00,387.00 C1094.40,385.62 1093.42,382.98 1093.30,380.80 C1093.18,378.62 1093.70,375.73 1095.30,373.90 C1096.90,372.07 1100.48,370.25 1102.90,369.80Z" fill="none" stroke="#000" stroke-width="2.20" stroke-linejoin="round"/>
<path d="M1078.80,376.00 C1081.45,375.88 1084.68,377.30 1086.40,378.80 C1088.12,380.30 1089.10,382.93 1089.10,385.00 C1089.10,387.07 1088.00,389.72 1086.40,391.20 C1084.80,392.68 1081.80,393.67 1079.50,393.90 C1077.20,394.13 1074.45,393.87 1072.60,392.60 C1070.75,391.33 1068.75,388.48 1068.40,386.30 C1068.05,384.12 1068.77,381.22 1070.50,379.50 C1072.23,377.78 1076.15,376.12 1078.80,376.00Z" fill="none" stroke="#000" stroke-width="2.20" stroke-linejoin="round"/>
<path d="M1086.40,390.50 C1089.17,390.73 1091.33,393.93 1092.60,396.00 C1093.87,398.07 1094.35,400.95 1094.00,402.90 C1093.65,404.85 1092.47,406.55 1090.50,407.70 C1088.53,408.85 1084.62,409.92 1082.20,409.80 C1079.78,409.68 1077.37,408.50 1076.00,407.00 C1074.63,405.50 1074.00,402.87 1074.00,400.80 C1074.00,398.73 1073.93,396.32 1076.00,394.60 C1078.07,392.88 1083.63,390.27 1086.40,390.50Z" fill="none" stroke="#000" stroke-width="2.20" stroke-linejoin="round"/>
<path d="M1062.90,396.70 C1064.73,397.15 1067.60,398.85 1069.10,400.80 C1070.60,402.75 1071.78,405.98 1071.90,408.40 C1072.02,410.82 1071.30,413.47 1069.80,415.30 C1068.30,417.13 1065.08,419.05 1062.90,419.40 C1060.72,419.75 1058.30,419.00 1056.70,417.40 C1055.10,415.80 1053.63,412.22 1053.30,409.80 C1052.97,407.38 1053.90,404.85 1054.70,402.90 C1055.50,400.95 1056.73,399.13 1058.10,398.10 C1059.47,397.07 1061.07,396.25 1062.90,396.70Z" fill="none" stroke="#000" stroke-width="2.20" stroke-linejoin="round"/>
<path d="M1001.20,216.60 C1003.12,216.90 1006.38,218.58 1007.90,220.30 C1009.42,222.02 1010.30,224.68 1010.30,226.90 C1010.30,229.12 1009.42,231.88 1007.90,233.60 C1006.38,235.32 1003.32,236.80 1001.20,237.20 C999.08,237.60 996.70,237.22 995.20,236.00 C993.70,234.78 992.60,232.02 992.20,229.90 C991.80,227.78 992.10,225.20 992.80,223.30 C993.50,221.40 995.00,219.62 996.40,218.50 C997.80,217.38 999.28,216.30 1001.20,216.60Z" fill="none" stroke="#000" stroke-width="2.20" stroke-linejoin="round"/>
<path d="M984.30,225.10 C986.62,224.70 989.18,225.60 991.00,226.90 C992.82,228.20 994.60,230.68 995.20,232.90 C995.80,235.12 995.60,237.98 994.60,240.20 C993.60,242.42 991.32,245.00 989.20,246.20 C987.08,247.40 984.02,247.80 981.90,247.40 C979.78,247.00 977.70,245.60 976.50,243.80 C975.30,242.00 974.60,239.02 974.70,236.60 C974.80,234.18 975.50,231.22 977.10,229.30 C978.70,227.38 981.98,225.50 984.30,225.10Z" fill="none" stroke="#000" stroke-width="2.20" stroke-linejoin="round"/>
<path d="M1003.60,260.70 C1005.92,260.70 1008.78,261.48 1010.30,263.10 C1011.82,264.72 1012.50,267.78 1012.70,270.40 C1012.90,273.02 1012.60,276.68 1011.50,278.80 C1010.40,280.92 1008.22,282.38 1006.10,283.10 C1003.98,283.82 1000.72,284.02 998.80,283.10 C996.88,282.18 995.40,279.92 994.60,277.60 C993.80,275.28 993.70,271.62 994.00,269.20 C994.30,266.78 994.80,264.52 996.40,263.10 C998.00,261.68 1001.28,260.70 1003.60,260.70Z" fill="none" stroke="#000" stroke-width="2.20" stroke-linejoin="round"/>
<path d="M1027.80,275.80 C1030.22,276.10 1034.48,277.28 1036.30,278.80 C1038.12,280.32 1038.50,282.68 1038.70,284.90 C1038.90,287.12 1037.50,289.68 1037.50,292.10 C1037.50,294.52 1038.80,296.98 1038.70,299.40 C1038.60,301.82 1038.32,304.80 1036.90,306.60 C1035.48,308.40 1032.52,309.70 1030.20,310.20 C1027.88,310.70 1024.92,310.60 1023.00,309.60 C1021.08,308.60 1019.42,306.30 1018.70,304.20 C1017.98,302.10 1018.38,299.02 1018.70,297.00 C1019.02,294.98 1020.70,293.72 1020.60,292.10 C1020.50,290.48 1018.52,289.10 1018.10,287.30 C1017.68,285.50 1017.48,283.02 1018.10,281.30 C1018.72,279.58 1020.18,277.92 1021.80,277.00 C1023.42,276.08 1025.38,275.50 1027.80,275.80Z" fill="none" stroke="#000" stroke-width="2.20" stroke-linejoin="round"/>
<path d="M728.40,111.20 C730.90,111.45 735.53,112.00 737.40,113.50 C739.27,115.00 739.60,117.97 739.60,120.20 C739.60,122.43 739.27,125.42 737.40,126.90 C735.53,128.38 731.27,129.10 728.40,129.10 C725.53,129.10 722.07,128.27 720.20,126.90 C718.33,125.53 717.45,122.90 717.20,120.90 C716.95,118.90 717.83,116.38 718.70,114.90 C719.57,113.42 720.78,112.62 722.40,112.00 C724.02,111.38 725.90,110.95 728.40,111.20Z" fill="none" stroke="#000" stroke-width="2.20" stroke-linejoin="round"/>
<path d="M807.60,188.20 C809.85,188.45 812.35,188.97 813.60,191.20 C814.85,193.43 815.47,198.37 815.10,201.60 C814.73,204.83 813.40,208.48 811.40,210.60 C809.40,212.72 806.10,214.30 803.10,214.30 C800.10,214.30 795.38,212.47 793.40,210.60 C791.42,208.73 791.07,205.58 791.20,203.10 C791.33,200.62 792.72,197.93 794.20,195.70 C795.68,193.47 797.87,190.95 800.10,189.70 C802.33,188.45 805.35,187.95 807.60,188.20Z" fill="none" stroke="#000" stroke-width="2.20" stroke-linejoin="round"/>
<path d="M876.40,132.10 C878.90,132.35 882.28,134.03 883.90,135.90 C885.52,137.77 886.48,141.07 886.10,143.30 C885.72,145.53 883.60,148.05 881.60,149.30 C879.60,150.55 876.47,151.17 874.10,150.80 C871.73,150.43 868.77,148.83 867.40,147.10 C866.03,145.37 865.65,142.52 865.90,140.40 C866.15,138.28 867.15,135.78 868.90,134.40 C870.65,133.02 873.90,131.85 876.40,132.10Z" fill="none" stroke="#000" stroke-width="2.20" stroke-linejoin="round"/>
<path d="M886.80,149.30 C889.30,149.05 892.35,150.55 893.60,152.30 C894.85,154.05 894.68,157.05 894.30,159.80 C893.92,162.55 893.03,166.57 891.30,168.80 C889.57,171.03 886.13,173.08 883.90,173.20 C881.67,173.32 879.28,171.48 877.90,169.50 C876.52,167.52 875.48,163.92 875.60,161.30 C875.72,158.68 876.73,155.80 878.60,153.80 C880.47,151.80 884.30,149.55 886.80,149.30Z" fill="none" stroke="#000" stroke-width="2.20" stroke-linejoin="round"/>
<path d="M868.00,511.50 C870.07,511.70 872.80,512.18 874.90,513.20 C877.00,514.22 879.22,515.75 880.60,517.60 C881.98,519.45 882.92,522.12 883.20,524.30 C883.48,526.48 883.17,528.75 882.30,530.70 C881.43,532.65 879.77,534.68 878.00,536.00 C876.23,537.32 873.83,538.17 871.70,538.60 C869.57,539.03 867.43,538.97 865.20,538.60 C862.97,538.23 860.33,537.50 858.30,536.40 C856.27,535.30 854.10,533.87 853.00,532.00 C851.90,530.13 851.75,527.40 851.70,525.20 C851.65,523.00 851.87,520.60 852.70,518.80 C853.53,517.00 855.07,515.53 856.70,514.40 C858.33,513.27 860.62,512.48 862.50,512.00 C864.38,511.52 865.93,511.30 868.00,511.50Z" fill="none" stroke="#000" stroke-width="2.20" stroke-linejoin="round"/>
<path d="M1105.30,515.40 C1107.63,515.68 1110.83,517.28 1112.70,518.80 C1114.57,520.32 1116.02,522.43 1116.50,524.50 C1116.98,526.57 1116.50,529.12 1115.60,531.20 C1114.70,533.28 1113.23,535.63 1111.10,537.00 C1108.97,538.37 1105.42,539.48 1102.80,539.40 C1100.18,539.32 1097.05,538.02 1095.40,536.50 C1093.75,534.98 1093.12,532.70 1092.90,530.30 C1092.68,527.90 1093.13,524.30 1094.10,522.10 C1095.07,519.90 1096.83,518.22 1098.70,517.10 C1100.57,515.98 1102.97,515.12 1105.30,515.40Z" fill="none" stroke="#000" stroke-width="2.20" stroke-linejoin="round"/>
<path d="M1097.00,544.40 C1099.48,544.40 1102.50,545.25 1104.50,546.90 C1106.50,548.55 1108.18,551.68 1109.00,554.30 C1109.82,556.92 1109.88,559.98 1109.40,562.60 C1108.92,565.22 1108.02,568.07 1106.10,570.00 C1104.18,571.93 1100.52,573.92 1097.90,574.20 C1095.28,574.48 1092.75,573.08 1090.40,571.70 C1088.05,570.32 1085.32,567.97 1083.80,565.90 C1082.28,563.83 1081.30,561.65 1081.30,559.30 C1081.30,556.95 1082.42,553.87 1083.80,551.80 C1085.18,549.73 1087.40,548.13 1089.60,546.90 C1091.80,545.67 1094.52,544.40 1097.00,544.40Z" fill="none" stroke="#000" stroke-width="2.20" stroke-linejoin="round"/>
<path d="M945.00,320.00 C947.73,320.23 951.00,321.47 953.20,323.20 C955.40,324.93 957.60,328.13 958.20,330.40 C958.80,332.67 957.95,335.05 956.80,336.80 C955.65,338.55 953.57,339.98 951.30,340.90 C949.03,341.82 945.92,342.45 943.20,342.30 C940.48,342.15 937.05,341.37 935.00,340.00 C932.95,338.63 931.50,336.15 930.90,334.10 C930.30,332.05 930.42,329.75 931.40,327.70 C932.38,325.65 934.53,323.08 936.80,321.80 C939.07,320.52 942.27,319.77 945.00,320.00Z" fill="none" stroke="#000" stroke-width="2.20" stroke-linejoin="round"/>
<path d="M1027.70,325.00 C1030.03,324.32 1034.28,323.90 1036.70,324.50 C1039.12,325.10 1040.98,326.55 1042.20,328.60 C1043.42,330.65 1044.30,334.22 1044.00,336.80 C1043.70,339.38 1042.52,341.53 1040.40,344.10 C1038.28,346.67 1033.73,351.30 1031.30,352.20 C1028.87,353.10 1027.47,351.15 1025.80,349.50 C1024.13,347.85 1022.20,344.72 1021.30,342.30 C1020.40,339.88 1020.17,337.28 1020.40,335.00 C1020.63,332.72 1021.48,330.27 1022.70,328.60 C1023.92,326.93 1025.37,325.68 1027.70,325.00Z" fill="none" stroke="#000" stroke-width="2.20" stroke-linejoin="round"/>
<path d="M1020.60,292.10 C1022.00,292.30 1026.18,293.70 1029.00,293.30 C1031.82,292.90 1036.08,290.30 1037.50,289.70" fill="none" stroke="#000" stroke-width="2.20" stroke-linejoin="round"/>
<path d="M907.50,181.20 C907.42,180.25 906.65,177.28 907.00,175.50 C907.35,173.72 908.22,171.75 909.60,170.50 C910.98,169.25 913.23,168.52 915.30,168.00 C917.37,167.48 919.85,167.15 922.00,167.40 C924.15,167.65 926.65,168.43 928.20,169.50 C929.75,170.57 930.78,173.08 931.30,173.80" fill="none" stroke="#000" stroke-width="2.20" stroke-linejoin="round"/>
<path d="M931.30,174.00 C932.17,174.20 934.87,174.48 936.50,175.20 C938.13,175.92 939.93,176.87 941.10,178.30 C942.27,179.73 943.35,182.02 943.50,183.80 C943.65,185.58 943.00,187.63 942.00,189.00 C941.00,190.37 939.10,191.03 937.50,192.00 C935.90,192.97 934.38,194.30 932.40,194.80 C930.42,195.30 927.33,195.47 925.60,195.00 C923.87,194.53 922.85,193.52 922.00,192.00 C921.15,190.48 920.83,187.65 920.50,185.90 C920.17,184.15 920.08,182.23 920.00,181.50" fill="none" stroke="#000" stroke-width="2.20" stroke-linejoin="round"/>
<path d="M902.90,180.90 C904.45,180.78 907.03,181.38 909.10,181.70 C911.17,182.02 913.58,182.37 915.30,182.80 C917.02,183.23 918.58,183.27 919.40,184.30 C920.22,185.33 920.28,187.45 920.20,189.00 C920.12,190.55 919.90,192.27 918.90,193.60 C917.90,194.93 916.10,196.27 914.20,197.00 C912.30,197.73 909.73,198.17 907.50,198.00 C905.27,197.83 902.40,196.98 900.80,196.00 C899.20,195.02 898.38,193.78 897.90,192.10 C897.42,190.42 897.58,187.52 897.90,185.90 C898.22,184.28 898.97,183.23 899.80,182.40 C900.63,181.57 901.35,181.02 902.90,180.90Z" fill="none" stroke="#000" stroke-width="2.20" stroke-linejoin="round"/>
<path d="M927.50,116.20 C931.32,116.45 936.40,118.77 939.70,120.80 C943.00,122.83 946.53,125.10 947.30,128.40 C948.07,131.70 945.32,137.03 944.30,140.60 C943.28,144.17 943.50,148.02 941.20,149.80 C938.90,151.58 934.07,151.82 930.50,151.30 C926.93,150.78 922.98,149.25 919.80,146.70 C916.62,144.15 912.92,139.30 911.40,136.00 C909.88,132.70 909.80,129.68 910.70,126.90 C911.60,124.12 914.00,121.08 916.80,119.30 C919.60,117.52 923.68,115.95 927.50,116.20Z" fill="none" stroke="#000" stroke-width="2.30" stroke-linejoin="round" stroke-dasharray="5.5 3.5"/>
<path d="M948.80,125.40 C952.37,122.87 959.27,120.80 964.10,120.80 C968.93,120.80 974.37,122.87 977.80,125.40 C981.23,127.93 983.68,132.45 984.70,136.00 C985.72,139.55 985.05,143.13 983.90,146.70 C982.75,150.27 981.10,154.72 977.80,157.40 C974.50,160.08 968.67,162.28 964.10,162.80 C959.53,163.32 953.83,161.90 950.40,160.50 C946.97,159.10 945.03,156.95 943.50,154.40 C941.97,151.85 941.33,148.27 941.20,145.20 C941.07,142.13 941.43,139.30 942.70,136.00 C943.97,132.70 945.23,127.93 948.80,125.40Z" fill="none" stroke="#000" stroke-width="2.30" stroke-linejoin="round" stroke-dasharray="5.5 3.5"/>
<path d="M958.00,181.80 C959.52,179.27 962.03,175.23 965.60,172.70 C969.17,170.17 974.57,168.25 979.40,166.60 C984.23,164.95 990.03,162.80 994.60,162.80 C999.17,162.80 1004.38,164.45 1006.80,166.60 C1009.22,168.75 1009.60,172.65 1009.10,175.70 C1008.60,178.75 1006.72,181.97 1003.80,184.90 C1000.88,187.83 996.43,191.27 991.60,193.30 C986.77,195.33 979.88,196.98 974.80,197.10 C969.72,197.22 964.15,195.53 961.10,194.00 C958.05,192.47 957.02,189.93 956.50,187.90 C955.98,185.87 956.48,184.33 958.00,181.80Z" fill="none" stroke="#000" stroke-width="2.30" stroke-linejoin="round" stroke-dasharray="5.5 3.5"/>
<path d="M1043.60,186.00 C1046.22,186.53 1049.32,188.03 1051.00,190.10 C1052.68,192.17 1053.55,195.63 1053.70,198.40 C1053.85,201.17 1052.97,204.72 1051.90,206.70 C1050.83,208.68 1049.30,209.08 1047.30,210.30 C1045.30,211.52 1042.82,212.77 1039.90,214.00 C1036.98,215.23 1032.87,217.23 1029.80,217.70 C1026.73,218.17 1023.80,217.72 1021.50,216.80 C1019.20,215.88 1017.22,214.20 1016.00,212.20 C1014.78,210.20 1013.88,207.10 1014.20,204.80 C1014.52,202.50 1015.92,200.70 1017.90,198.40 C1019.88,196.10 1023.20,192.92 1026.10,191.00 C1029.00,189.08 1032.38,187.73 1035.30,186.90 C1038.22,186.07 1040.98,185.47 1043.60,186.00Z" fill="none" stroke="#000" stroke-width="2.30" stroke-linejoin="round" stroke-dasharray="5.5 3.5"/>
<path d="M1028.00,217.70 C1029.47,215.40 1032.40,210.05 1035.30,207.60 C1038.20,205.15 1042.18,203.15 1045.40,203.00 C1048.62,202.85 1051.53,204.87 1054.60,206.70 C1057.67,208.53 1061.65,211.40 1063.80,214.00 C1065.95,216.60 1067.03,219.08 1067.50,222.30 C1067.97,225.52 1067.52,229.63 1066.60,233.30 C1065.68,236.97 1064.30,241.08 1062.00,244.30 C1059.70,247.52 1055.87,250.75 1052.80,252.60 C1049.73,254.45 1046.67,255.70 1043.60,255.40 C1040.53,255.10 1037.00,253.42 1034.40,250.80 C1031.80,248.18 1029.45,243.38 1028.00,239.70 C1026.55,236.02 1025.95,231.75 1025.70,228.70 C1025.45,225.65 1026.12,223.23 1026.50,221.40 C1026.88,219.57 1026.53,220.00 1028.00,217.70Z" fill="none" stroke="#000" stroke-width="2.30" stroke-linejoin="round" stroke-dasharray="5.5 3.5"/>
<path d="M1087.20,253.20 C1089.93,253.48 1093.97,253.93 1096.70,255.30 C1099.43,256.67 1101.73,258.95 1103.60,261.40 C1105.47,263.85 1106.75,266.70 1107.90,270.00 C1109.05,273.30 1109.92,277.32 1110.50,281.20 C1111.08,285.08 1111.53,289.57 1111.40,293.30 C1111.27,297.03 1110.85,300.73 1109.70,303.60 C1108.55,306.47 1106.95,308.63 1104.50,310.50 C1102.05,312.37 1098.17,313.87 1095.00,314.80 C1091.83,315.73 1088.67,316.23 1085.50,316.10 C1082.33,315.97 1078.73,315.37 1076.00,314.00 C1073.27,312.63 1071.40,310.50 1069.10,307.90 C1066.80,305.30 1064.35,301.42 1062.20,298.40 C1060.05,295.38 1057.48,292.95 1056.20,289.80 C1054.92,286.65 1054.50,282.65 1054.50,279.50 C1054.50,276.35 1054.77,273.48 1056.20,270.90 C1057.63,268.32 1060.37,266.30 1063.10,264.00 C1065.83,261.70 1069.73,258.83 1072.60,257.10 C1075.47,255.37 1077.87,254.25 1080.30,253.60 C1082.73,252.95 1084.47,252.92 1087.20,253.20Z" fill="none" stroke="#000" stroke-width="2.30" stroke-linejoin="round" stroke-dasharray="5.5 3.5"/>
<path d="M1103.50,368.00 C1103.38,366.50 1102.52,361.83 1102.80,359.00 C1103.08,356.17 1103.05,353.83 1105.20,351.00 C1107.35,348.17 1112.17,344.75 1115.70,342.00 C1119.23,339.25 1122.95,336.70 1126.40,334.50 C1129.85,332.30 1133.08,330.17 1136.40,328.80 C1139.72,327.43 1143.00,325.75 1146.30,326.30 C1149.60,326.85 1153.58,329.77 1156.20,332.10 C1158.82,334.43 1160.75,337.13 1162.00,340.30 C1163.25,343.47 1163.70,347.65 1163.70,351.10 C1163.70,354.55 1163.25,357.97 1162.00,361.00 C1160.75,364.03 1158.55,366.95 1156.20,369.30 C1153.85,371.65 1150.93,373.72 1147.90,375.10 C1144.87,376.48 1141.30,376.78 1138.00,377.60 C1134.70,378.42 1131.68,379.68 1128.10,380.00 C1124.52,380.32 1118.43,379.58 1116.50,379.50" fill="none" stroke="#000" stroke-width="2.30" stroke-linejoin="round" stroke-dasharray="5.5 3.5"/>
<path d="M1126.40,335.80 C1128.55,335.45 1133.22,336.73 1136.40,337.90 C1139.58,339.07 1143.37,340.60 1145.50,342.80 C1147.63,345.00 1148.65,348.20 1149.20,351.10 C1149.75,354.00 1149.57,357.17 1148.80,360.20 C1148.03,363.23 1146.82,366.82 1144.60,369.30 C1142.38,371.78 1138.38,374.55 1135.50,375.10 C1132.62,375.65 1129.63,374.12 1127.30,372.60 C1124.97,371.08 1122.75,368.77 1121.50,366.00 C1120.25,363.23 1119.80,359.03 1119.80,356.00 C1119.80,352.97 1120.88,350.47 1121.50,347.80 C1122.12,345.13 1122.68,342.00 1123.50,340.00 C1124.32,338.00 1124.25,336.15 1126.40,335.80Z" fill="none" stroke="#000" stroke-width="2.30" stroke-linejoin="round" stroke-dasharray="5.5 3.5"/>
<path d="M1163.40,386.80 C1166.08,387.07 1169.35,387.25 1171.50,388.80 C1173.65,390.35 1174.90,393.15 1176.30,396.10 C1177.70,399.05 1179.03,402.75 1179.90,406.50 C1180.77,410.25 1181.30,414.30 1181.50,418.60 C1181.70,422.90 1181.57,428.68 1181.10,432.30 C1180.63,435.92 1180.30,438.55 1178.70,440.30 C1177.10,442.05 1173.92,442.25 1171.50,442.80 C1169.08,443.35 1167.02,443.95 1164.20,443.60 C1161.38,443.25 1157.95,442.05 1154.60,440.70 C1151.25,439.35 1147.58,437.97 1144.10,435.50 C1140.62,433.03 1136.38,429.25 1133.70,425.90 C1131.02,422.55 1129.15,418.63 1128.00,415.40 C1126.85,412.17 1126.67,409.18 1126.80,406.50 C1126.93,403.82 1127.38,401.50 1128.80,399.30 C1130.22,397.10 1132.75,394.90 1135.30,393.30 C1137.85,391.70 1140.75,390.72 1144.10,389.70 C1147.45,388.68 1152.18,387.68 1155.40,387.20 C1158.62,386.72 1160.72,386.53 1163.40,386.80Z" fill="none" stroke="#000" stroke-width="2.30" stroke-linejoin="round" stroke-dasharray="5.5 3.5"/>
<path d="M1205.90,515.80 C1208.40,515.93 1211.98,517.07 1214.10,518.50 C1216.22,519.93 1217.48,521.92 1218.60,524.40 C1219.72,526.88 1220.18,530.65 1220.80,533.40 C1221.42,536.15 1221.67,538.53 1222.30,540.90 C1222.93,543.27 1224.35,545.37 1224.60,547.60 C1224.85,549.83 1224.80,552.30 1223.80,554.30 C1222.80,556.30 1220.72,558.23 1218.60,559.60 C1216.48,560.97 1213.72,562.02 1211.10,562.50 C1208.48,562.98 1205.88,562.93 1202.90,562.50 C1199.92,562.07 1196.20,561.27 1193.20,559.90 C1190.20,558.53 1186.97,556.47 1184.90,554.30 C1182.83,552.13 1181.67,549.38 1180.80,546.90 C1179.93,544.42 1179.75,542.02 1179.70,539.40 C1179.65,536.78 1179.63,533.57 1180.50,531.20 C1181.37,528.83 1183.03,526.83 1184.90,525.20 C1186.77,523.57 1189.33,522.65 1191.70,521.40 C1194.07,520.15 1196.73,518.63 1199.10,517.70 C1201.47,516.77 1203.40,515.67 1205.90,515.80Z" fill="none" stroke="#000" stroke-width="2.30" stroke-linejoin="round" stroke-dasharray="5.5 3.5"/>
</g>
<g class="cap">
<text x="75.88" y="781.70" textLength="45.78" lengthAdjust="spacingAndGlyphs">F<tspan font-size="16.30">IG</tspan>.</text>
<text x="124.48" y="781.70" textLength="19.10" lengthAdjust="spacingAndGlyphs">2.</text>
<text x="151.60" y="781.70" textLength="84.78" lengthAdjust="spacingAndGlyphs">Diagram</text>
<text x="244.33" y="781.70" textLength="80.53" lengthAdjust="spacingAndGlyphs">showing</text>
<text x="331.13" y="781.70" textLength="33.83" lengthAdjust="spacingAndGlyphs">the</text>
<text x="372.21" y="781.70" textLength="78.66" lengthAdjust="spacingAndGlyphs">position</text>
<text x="457.65" y="781.70" textLength="20.75" lengthAdjust="spacingAndGlyphs">of</text>
<text x="484.74" y="781.70" textLength="111.95" lengthAdjust="spacingAndGlyphs">nucleotides</text>
<text x="602.05" y="781.70" textLength="47.64" lengthAdjust="spacingAndGlyphs">from</text>
<text x="656.36" y="781.70" textLength="13.15" lengthAdjust="spacingAndGlyphs">a</text>
<text x="676.72" y="781.70" textLength="122.22" lengthAdjust="spacingAndGlyphs">ribonuclease</text>
<text x="805.78" y="781.70" textLength="27.27" lengthAdjust="spacingAndGlyphs">T<tspan font-size="14.00" dy="4.00">1</tspan></text>
<text x="837.92" y="781.70" textLength="58.02" lengthAdjust="spacingAndGlyphs">digest</text>
<text x="904.15" y="781.70" textLength="20.75" lengthAdjust="spacingAndGlyphs">of</text>
<text x="932.82" y="781.70" textLength="49.65" lengthAdjust="spacingAndGlyphs">RNA</text>
<text x="990.66" y="781.70" textLength="24.61" lengthAdjust="spacingAndGlyphs">on</text>
<text x="1025.04" y="781.70" textLength="32.59" lengthAdjust="spacingAndGlyphs">the</text>
<text x="1066.97" y="781.70" textLength="161.21" lengthAdjust="spacingAndGlyphs">two-dimensional</text>
<text x="1235.96" y="781.70" textLength="77.02" lengthAdjust="spacingAndGlyphs">system.</text>
<text x="54.75" y="805.60" textLength="26.50" lengthAdjust="spacingAndGlyphs">(a)</text>
<text x="87.47" y="805.60" textLength="101.87" lengthAdjust="spacingAndGlyphs">Illustrates</text>
<text x="195.47" y="805.60" textLength="13.03" lengthAdjust="spacingAndGlyphs">a</text>
<text x="215.54" y="805.60" textLength="126.74" lengthAdjust="spacingAndGlyphs">fractionation</text>
<text x="350.22" y="805.60" textLength="42.24" lengthAdjust="spacingAndGlyphs">that</text>
<text x="400.26" y="805.60" textLength="32.52" lengthAdjust="spacingAndGlyphs">has</text>
<text x="441.20" y="805.60" textLength="44.46" lengthAdjust="spacingAndGlyphs">been</text>
<text x="493.00" y="805.60" textLength="33.38" lengthAdjust="spacingAndGlyphs">run</text>
<text x="534.57" y="805.60" textLength="27.74" lengthAdjust="spacingAndGlyphs">for</text>
<text x="570.37" y="805.60" textLength="13.03" lengthAdjust="spacingAndGlyphs">a</text>
<text x="588.92" y="805.60" textLength="52.43" lengthAdjust="spacingAndGlyphs">short</text>
<text x="649.06" y="805.60" textLength="44.10" lengthAdjust="spacingAndGlyphs">time</text>
<text x="699.52" y="805.60" textLength="25.77" lengthAdjust="spacingAndGlyphs">on</text>
<text x="731.61" y="805.60" textLength="36.11" lengthAdjust="spacingAndGlyphs">the</text>
<text x="774.22" y="805.60" textLength="129.18" lengthAdjust="spacingAndGlyphs">DEAE-paper;</text>
<text x="910.88" y="805.60" textLength="32.34" lengthAdjust="spacingAndGlyphs">(b)</text>
<text x="953.46" y="805.60" textLength="35.49" lengthAdjust="spacingAndGlyphs">one</text>
<text x="996.02" y="805.60" textLength="42.24" lengthAdjust="spacingAndGlyphs">that</text>
<text x="1046.06" y="805.60" textLength="32.52" lengthAdjust="spacingAndGlyphs">has</text>
<text x="1088.10" y="805.60" textLength="44.56" lengthAdjust="spacingAndGlyphs">been</text>
<text x="1143.50" y="805.60" textLength="33.38" lengthAdjust="spacingAndGlyphs">run</text>
<text x="1188.54" y="805.60" textLength="28.88" lengthAdjust="spacingAndGlyphs">for</text>
<text x="1227.76" y="805.60" textLength="13.15" lengthAdjust="spacingAndGlyphs">a</text>
<text x="1252.13" y="805.60" textLength="60.58" lengthAdjust="spacingAndGlyphs">longer</text>
<text x="54.46" y="829.50" textLength="50.69" lengthAdjust="spacingAndGlyphs">time.</text>
<text x="113.26" y="829.50" textLength="17.09" lengthAdjust="spacingAndGlyphs">B</text>
<text x="136.67" y="829.50" textLength="61.95" lengthAdjust="spacingAndGlyphs">marks</text>
<text x="205.54" y="829.50" textLength="32.59" lengthAdjust="spacingAndGlyphs">the</text>
<text x="246.12" y="829.50" textLength="76.34" lengthAdjust="spacingAndGlyphs">position</text>
<text x="330.45" y="829.50" textLength="20.75" lengthAdjust="spacingAndGlyphs">of</text>
<text x="359.55" y="829.50" textLength="31.34" lengthAdjust="spacingAndGlyphs">the</text>
<text x="399.30" y="829.50" textLength="41.54" lengthAdjust="spacingAndGlyphs">blue</text>
<text x="447.57" y="829.50" textLength="77.79" lengthAdjust="spacingAndGlyphs">marker.</text>
</g>
</svg>
</body></html>
